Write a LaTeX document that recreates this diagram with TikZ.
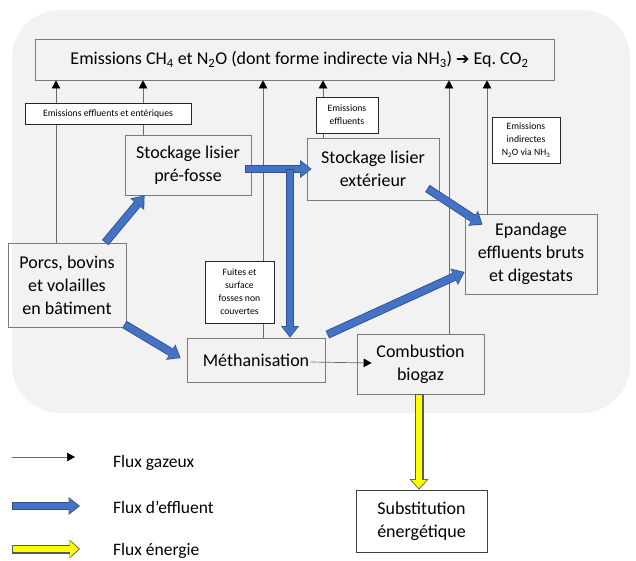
\documentclass[tikz,border=0pt]{standalone}
\usepackage{fontspec}
\setmainfont{Carlito}
\newfontfamily\dejavu{DejaVu Sans}
\usetikzlibrary{arrows.meta,calc}
\definecolor{bggray}{HTML}{F2F2F2}
\definecolor{boxline}{HTML}{7A7A7A}
\definecolor{effblue}{HTML}{4472C4}
\definecolor{effdark}{HTML}{2F528F}
\definecolor{enyellow}{HTML}{FFFF00}
\definecolor{enline}{HTML}{5A5A50}
\definecolor{gasline}{HTML}{6A6A6A}
\newcommand\effarrow[2]{%
  \draw[line width=8.4pt, effdark, -{Triangle[width=18pt,length=11.5pt,line width=0pt]}] #1 -- #2;
  \draw[line width=6.6pt, effblue, shorten <=0.8pt, shorten >=1.3pt, -{Triangle[width=15.3pt,length=9.7pt,line width=0pt]}] #1 -- #2;}
\newcommand\enarrow[2]{%
  \draw[line width=9pt, enline, -{Triangle[width=19pt,length=10.5pt,line width=0pt]}] #1 -- #2;
  \draw[line width=6.8pt, enyellow, shorten <=1pt, shorten >=1.4pt, -{Triangle[width=15.6pt,length=8.4pt,line width=0pt]}] #1 -- #2;}
\begin{document}
\begin{tikzpicture}[x=1pt,y=-1pt,
  box/.style={draw=boxline, line width=0.8pt, inner sep=0pt, align=center,
    font=\fontsize{18}{23}\selectfont},
  smallbox/.style={draw=black!85, fill=white, line width=0.7pt, inner sep=0pt, align=center,
    font=\fontsize{9.7}{13}\selectfont},
  gas/.style={draw=gasline, line width=0.7pt, -{Triangle[width=8.5pt,length=8pt,color=black]}},
  legtext/.style={anchor=west, inner sep=0pt, font=\fontsize{17.5}{20}\selectfont}]
\useasboundingbox (0,0) rectangle (636,560);
\fill[bggray, rounded corners=48pt] (12,10) rectangle (630,413);

% boxes
\node[box, minimum width=519pt, minimum height=41pt] (top) at (294.5,59.5)
  {\hspace*{10pt}Emissions CH\textsubscript{4} et N\textsubscript{2}O (dont forme indirecte via NH\textsubscript{3}) {\dejavu\fontsize{16}{16}\selectfont ➔} Eq.\ CO\textsubscript{2}};
\node[box, minimum width=126pt, minimum height=60pt] (pre) at (188,165) {Stockage lisier\\pré-fosse};
\node[box, minimum width=132pt, minimum height=62pt] (ext) at (373,169) {Stockage lisier\\extérieur};
\node[box, minimum width=118pt, minimum height=84pt] (porcs) at (67,285) {Porcs, bovins\\et volailles\\en bâtiment};
\node[box, minimum width=132pt, minimum height=80pt] (epand) at (531,254) {Epandage\\effluents bruts\\et digestats};
\node[box, minimum width=138pt, minimum height=44pt] (meth) at (256,360) {Méthanisation};
\node[box, minimum width=127pt, minimum height=60pt] (comb) at (420.5,364) {Combustion\\biogaz};
\node[box, draw=black!75, minimum width=131pt, minimum height=62pt] (subst) at (421.5,521) {Substitution\\énergétique};

% gas flows
\coordinate (g1) at (56,243);
\coordinate (g2) at (143,135);
\coordinate (g3) at (263,338);
\coordinate (g4) at (323,138);
\coordinate (g5) at (449,334);
\coordinate (g6) at (487,214);
\foreach \g in {g1,g2,g3,g4,g5,g6} \draw[gas] (\g) -- (\g |- top.south);
\draw[gas] ([shift={(-15pt,-2pt)}]meth.east) -- ([shift={(15pt,1pt)}]comb.west);

% small label boxes
\node[smallbox, minimum width=166pt, minimum height=21pt] (eet) at (108,113.5) {Emissions effluents et entériques};
\node[smallbox, minimum width=62pt, minimum height=36pt] (eff) at (347,115) {Emissions\\effluents};
\node[smallbox, minimum width=68pt, minimum height=46pt] (ind) at (526,140) {Emissions\\indirectes\\N\textsubscript{2}O via NH\textsubscript{3}};
\node[smallbox, minimum width=69pt, minimum height=62pt] (fuites) at (239.5,292) {Fuites et\\surface\\fosses non\\couvertes};

% effluent flows
\coordinate (jn) at (290,169);
\effarrow{(porcs.48)}{(pre.215.5)}
\effarrow{([shift={(-6pt,-4pt)}]pre.east)}{([xshift=5pt]ext.west)}
\effarrow{(jn)}{(jn |- meth.north)}
\effarrow{([shift={(-12pt,12pt)}]ext.south east)}{([shift={(18pt,-11pt)}]epand.north west)}
\effarrow{([shift={(-2pt,3pt)}]porcs.south east)}{([shift={(-6pt,2pt)}]meth.west)}
\effarrow{([shift={(2pt,3pt)}]meth.north east)}{([yshift=-18pt]epand.west)}

% energy flow
\enarrow{([xshift=-1.5pt]comb.south)}{([xshift=-2.5pt]subst.north)}

% legend
\coordinate (l1a) at (12,457);
\coordinate (l1b) at (75,457);
\coordinate (l2a) at (12,506);
\coordinate (l2b) at (80,506);
\coordinate (l3a) at (12,549);
\coordinate (l3b) at (80,549);
\draw[gas] (l1a) -- (l1b);
\effarrow{(l2a)}{(l2b)}
\enarrow{(l3a)}{(l3b)}
\node[legtext] (t1) at (113,463) {Flux gazeux};
\node[legtext] (t2) at (113,507) {Flux d’effluent};
\node[legtext] (t3) at (113,551) {Flux énergie};
\end{tikzpicture}
\end{document}
